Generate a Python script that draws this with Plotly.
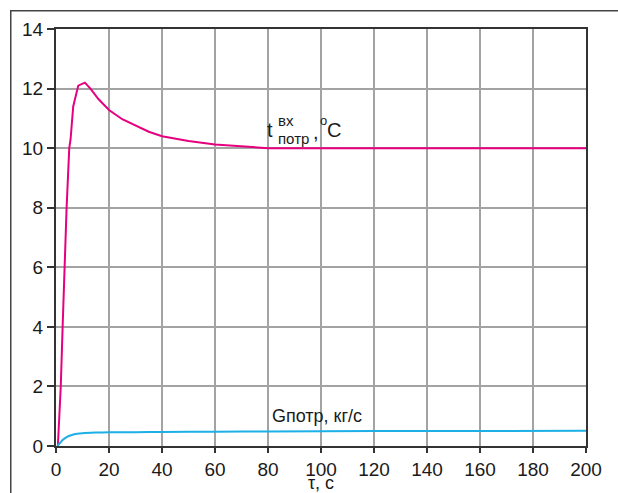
import plotly.graph_objects as go

# Data
tau_t = [0.7, 1.8, 2.5, 3.2, 4.0, 5.0, 5.5, 6.5, 8.4, 10.9, 13, 16, 20, 25, 30, 35, 40, 50, 60, 70, 80, 100, 150, 200]
t_in = [0, 2, 4, 6, 8, 10, 10.3, 11.4, 12.1, 12.2, 12.0, 11.65, 11.28, 10.97, 10.75, 10.55, 10.4, 10.24, 10.12, 10.05, 10.0, 10.0, 10.0, 10.0]

tau_g = [0.5, 1.5, 2.5, 4, 6, 8, 10, 15, 20, 30, 40, 60, 80, 120, 160, 200]
g_flow = [0, 0.1, 0.2, 0.3, 0.37, 0.41, 0.43, 0.45, 0.46, 0.465, 0.47, 0.48, 0.49, 0.5, 0.505, 0.51]

x_ticks = list(range(0, 201, 20))
y_ticks = list(range(0, 15, 2))

PINK = "#e6007e"
BLUE = "#1cb0e6"
FONT = "Liberation Sans, Arial, sans-serif"

fig = go.Figure()
fig.add_trace(go.Scatter(x=tau_t, y=t_in, mode="lines",
                         line=dict(color=PINK, width=2), showlegend=False))
fig.add_trace(go.Scatter(x=tau_g, y=g_flow, mode="lines",
                         line=dict(color=BLUE, width=2, shape="spline", smoothing=0.6),
                         showlegend=False))

W, H = 618, 493
L, R, T, B = 56, 32, 29, 47
pw, ph = W - L - R, H - T - B

def px2paper(px, py):
    return (px - L) / pw, (H - B - py) / ph

fig.update_layout(
    width=W, height=H,
    margin=dict(l=L, r=R, t=T, b=B),
    paper_bgcolor="white", plot_bgcolor="white",
    font=dict(family=FONT, size=19, color="#1a1a1a"),
    xaxis=dict(range=[0, 200], tickvals=x_ticks, ticks="outside", ticklen=5,
               tickwidth=1.5, tickcolor="#333",
               showline=True, linecolor="#333", linewidth=2, mirror=True,
               showgrid=True, gridcolor="#a3a3a3", gridwidth=1.5, zeroline=False,
               tickfont=dict(size=19)),
    yaxis=dict(range=[0, 14], tickvals=y_ticks, ticks="outside", ticklen=7,
               tickwidth=1.5, tickcolor="#333",
               showline=True, linecolor="#333", linewidth=2, mirror=True,
               showgrid=True, gridcolor="#a3a3a3", gridwidth=1.5, zeroline=False,
               tickfont=dict(size=19)),
)

# Outer frame: a bordered empty box whose right/bottom edges fall outside the figure
fx, fy = px2paper(10, 10)
fig.add_annotation(xref="paper", yref="paper", x=fx, y=fy, text=" ",
                   showarrow=False, xanchor="left", yanchor="top",
                   width=700, height=600, borderpad=0,
                   bordercolor="#444", borderwidth=1.5)

def ann(px, py, text, size, anchor="left"):
    ax, ay = px2paper(px, py)
    fig.add_annotation(xref="paper", yref="paper", x=ax, y=ay, text=text,
                       showarrow=False, xanchor=anchor, yanchor="middle",
                       font=dict(family=FONT, size=size, color="#1a1a1a"))

# t label: t^вх_потр, °C
ann(265, 130, "t", 20)
ann(276, 121, "вх", 15)
ann(276, 138, "потр", 15)
ann(311, 132, ",", 20)
ann(318, 121, "o", 13)
ann(325, 130, "C", 20)

# G label
ann(270, 416, "Gпотр, кг/с", 18)

# x axis title
ann(321, 483, "τ, с", 18, anchor="center")

fig.write_html("out.html", config={"displayModeBar": False},
               post_script="document.body.style.margin='0';document.body.style.overflow='hidden';")
